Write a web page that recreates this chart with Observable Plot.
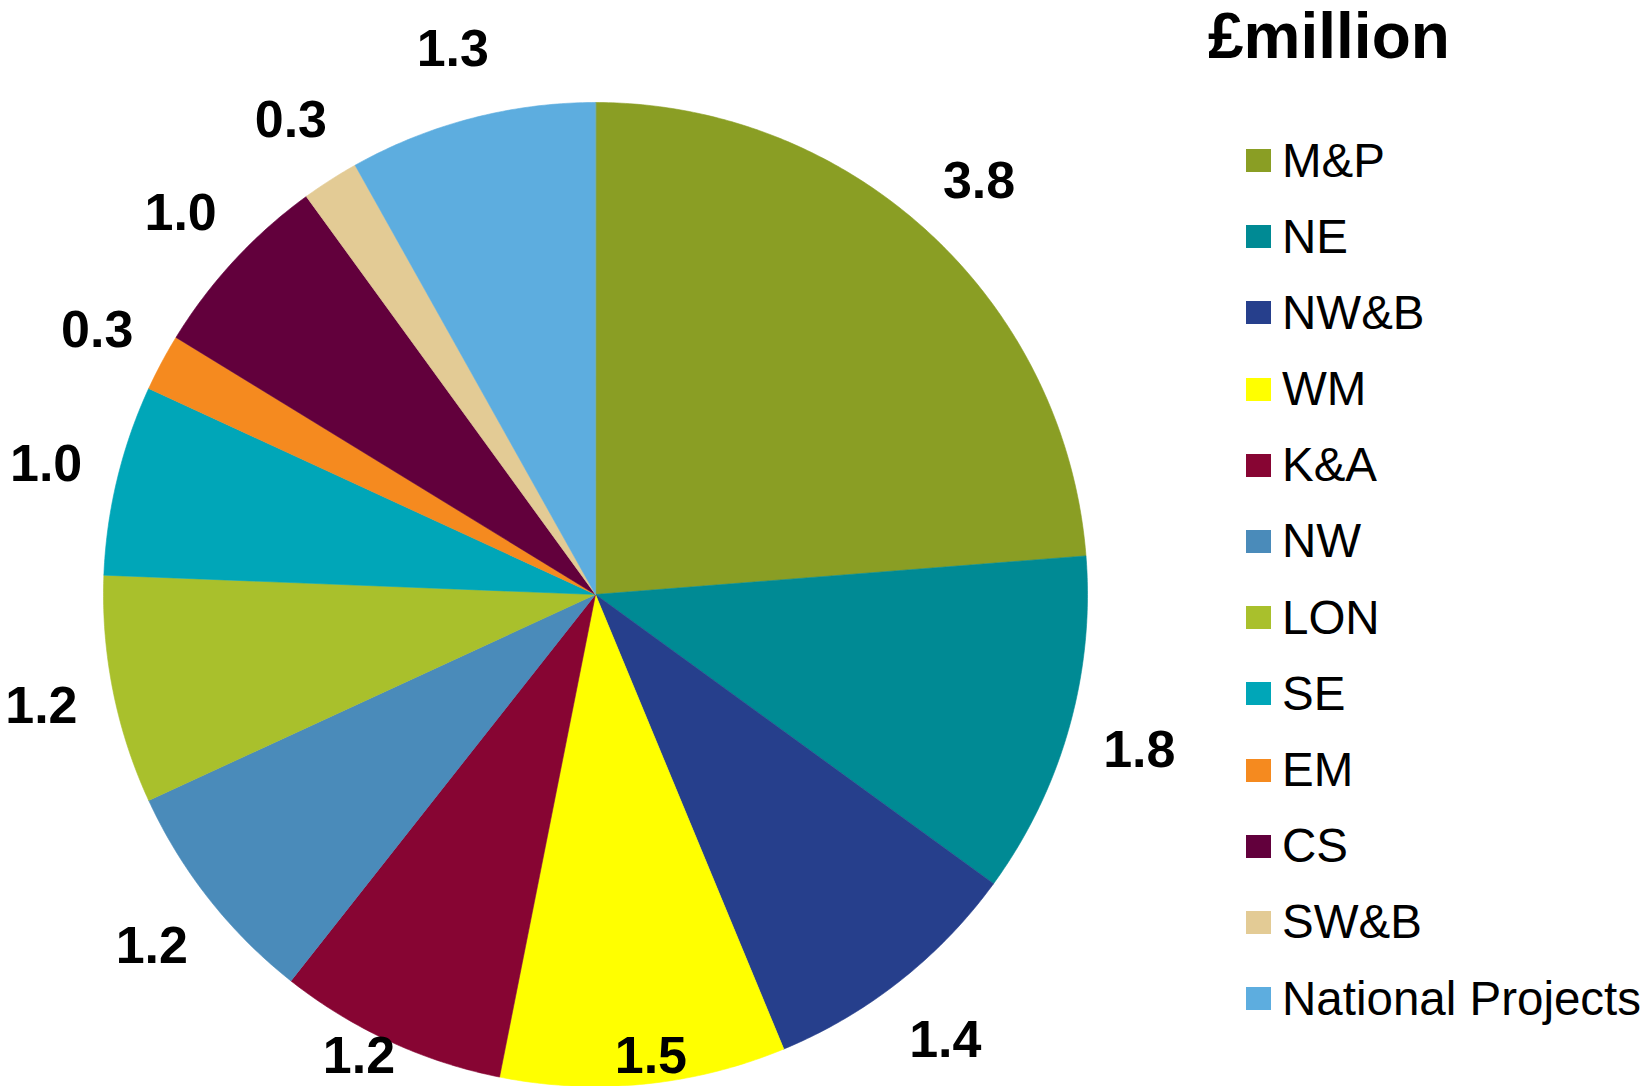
<!DOCTYPE html>
<html>
<head>
<meta charset="utf-8">
<script src="https://cdn.jsdelivr.net/npm/d3@7"></script>
<script src="https://cdn.jsdelivr.net/npm/@observablehq/plot@0.6"></script>
<style>
  html, body { margin: 0; padding: 0; background: #fff; }
  #wrap { position: relative; width: 1645px; height: 1086px; overflow: hidden; font-family: "Liberation Sans", Arial, sans-serif; }
  #wrap svg { position: absolute; left: 0; top: 0; }
  #legend-title { position: absolute; left: 1208px; top: 0px; font-size: 64px; font-weight: bold; line-height: 72px; color: #000; white-space: nowrap; }
  #legend { position: absolute; left: 1246px; top: 136.5px; display: flex; flex-direction: column; gap: 28.2px; }
  .item { display: flex; align-items: center; height: 48px; }
  .sw { width: 25px; height: 23px; flex: none; }
  .lab { margin-left: 11px; font-size: 47.5px; line-height: 48px; color: #000; white-space: nowrap; }
</style>
</head>
<body>
<div id="wrap"></div>
<script>
// ---- data ----
const categories = ["M&P", "NE", "NW&B", "WM", "K&A", "NW", "LON", "SE", "EM", "CS", "SW&B", "National Projects"];
const values = [3.8, 1.8, 1.4, 1.5, 1.2, 1.2, 1.2, 1.0, 0.3, 1.0, 0.3, 1.3];
const valueLabels = ["3.8", "1.8", "1.4", "1.5", "1.2", "1.2", "1.2", "1.0", "0.3", "1.0", "0.3", "1.3"];
const colors = ["#8A9E24", "#008A94", "#263F8C", "#FFFF00", "#870533", "#4A8BBA", "#A9C02C", "#00A6B8", "#F58A1F", "#62003C", "#E3CB95", "#5DADDF"];
const legendTitle = "£million";

// ---- geometry from data ----
const R = 492;               // pie radius in pixels (used to convert label offsets)
const arcs = d3.pie().sort(null).value(d => d)(values);
const slices = arcs.map((a, i) => {
  const ring = [[0, 0]];
  const n = Math.max(2, Math.ceil((a.endAngle - a.startAngle) / (Math.PI / 360)));
  for (let k = 0; k <= n; k++) {
    const t = a.startAngle + (a.endAngle - a.startAngle) * k / n;
    ring.push([Math.sin(t), Math.cos(t)]);
  }
  ring.push([0, 0]);
  return {type: "Feature", properties: {name: categories[i]}, geometry: {type: "Polygon", coordinates: [ring]}};
});
// outside-end labels at the mid angle, kept inside the bottom edge
const labelR = 565 / R;
const minY = -460 / R;
const labelData = arcs.map((a, i) => {
  const m = (a.startAngle + a.endAngle) / 2;
  return {
    name: categories[i],
    label: valueLabels[i],
    lx: labelR * Math.sin(m),
    ly: Math.max(minY, labelR * Math.cos(m))
  };
});
const frame = {type: "Feature", geometry: {type: "Polygon", coordinates: [[[-1, -1], [1, -1], [1, 1], [-1, 1], [-1, -1]]]}};

const chart = Plot.plot({
  width: 1645,
  height: 1086,
  marginLeft: 102,
  marginRight: 557,
  marginTop: 102,
  marginBottom: 0,
  projection: {type: "reflect-y", domain: frame, clip: false},
  color: {domain: categories, range: colors},
  style: {fontFamily: "Liberation Sans, Arial, sans-serif", background: "white", overflow: "visible"},
  marks: [
    Plot.geo(slices, {fill: d => d.properties.name, stroke: d => d.properties.name, strokeWidth: 0.6}),
    Plot.text(labelData, {x: "lx", y: "ly", text: "label", fontSize: 52, fontWeight: "bold", fill: "black", dy: 2})
  ]
});

const wrap = document.getElementById("wrap");
wrap.appendChild(chart);

const title = document.createElement("div");
title.id = "legend-title";
title.textContent = legendTitle;
wrap.appendChild(title);

const legend = document.createElement("div");
legend.id = "legend";
categories.forEach((c, i) => {
  const item = document.createElement("div");
  item.className = "item";
  const sw = document.createElement("div");
  sw.className = "sw";
  sw.style.background = colors[i];
  const lab = document.createElement("div");
  lab.className = "lab";
  lab.textContent = c;
  item.appendChild(sw);
  item.appendChild(lab);
  legend.appendChild(item);
});
wrap.appendChild(legend);
</script>
</body>
</html>
